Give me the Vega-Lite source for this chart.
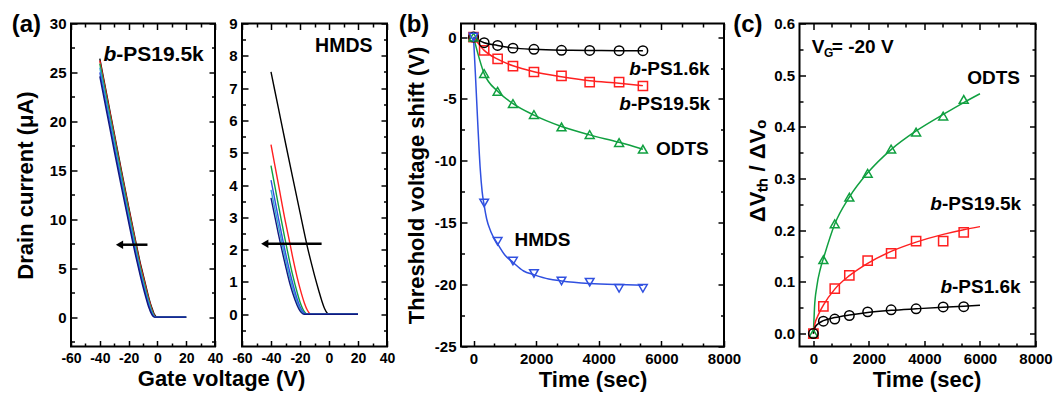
{
"$schema": "https://vega.github.io/schema/vega-lite/v6.json",
"background": "white",
"padding": {"left": 10, "top": 11.5, "right": 2, "bottom": 0},
"config": {
 "font": "Liberation Sans",
 "view": {"stroke": "black", "strokeWidth": 2},
 "axis": {"domain": false, "grid": false, "ticks": true, "tickColor": "black", "tickWidth": 1.5, "labelColor": "black", "labelFontSize": 15, "labelFontWeight": "bold", "labelFlush": false, "labelOverlap": false, "titleColor": "black", "titleFontSize": 22, "titleFontWeight": "bold", "offset": 0},
 "text": {"fontWeight": "bold", "fontSize": 19, "color": "black", "align": "left", "baseline": "middle"}
},
"datasets": {
 "ps": [
  {"s":"k","x":-40,"y":26.4},{"s":"k","x":-35,"y":22.6},{"s":"k","x":-30,"y":18.8},{"s":"k","x":-25,"y":15.0},{"s":"k","x":-20,"y":11.3},{"s":"k","x":-15,"y":7.7},{"s":"k","x":-12,"y":5.6},{"s":"k","x":-10,"y":4.4},{"s":"k","x":-8,"y":3.2},{"s":"k","x":-6,"y":2.0},{"s":"k","x":-4,"y":1.0},{"s":"k","x":-3,"y":0.6},{"s":"k","x":-2,"y":0.25},{"s":"k","x":-1,"y":0.05},{"s":"k","x":0,"y":0},{"s":"k","x":20,"y":0},
  {"s":"r","x":-40,"y":26.2},{"s":"r","x":-35,"y":22.4},{"s":"r","x":-30,"y":18.6},{"s":"r","x":-25,"y":14.8},{"s":"r","x":-20,"y":11.1},{"s":"r","x":-15,"y":7.5},{"s":"r","x":-12,"y":5.4},{"s":"r","x":-10,"y":4.2},{"s":"r","x":-8,"y":3.0},{"s":"r","x":-6,"y":1.85},{"s":"r","x":-4,"y":0.85},{"s":"r","x":-3,"y":0.45},{"s":"r","x":-2,"y":0.15},{"s":"r","x":-1,"y":0.02},{"s":"r","x":0,"y":0},{"s":"r","x":20,"y":0},
  {"s":"g","x":-40,"y":25.9},{"s":"g","x":-35,"y":22.1},{"s":"g","x":-30,"y":18.3},{"s":"g","x":-25,"y":14.5},{"s":"g","x":-20,"y":10.8},{"s":"g","x":-15,"y":7.2},{"s":"g","x":-12,"y":5.1},{"s":"g","x":-10,"y":3.9},{"s":"g","x":-8,"y":2.75},{"s":"g","x":-6,"y":1.65},{"s":"g","x":-4,"y":0.7},{"s":"g","x":-3,"y":0.35},{"s":"g","x":-2,"y":0.1},{"s":"g","x":-1,"y":0},{"s":"g","x":20,"y":0},
  {"s":"c","x":-40,"y":25.5},{"s":"c","x":-35,"y":21.7},{"s":"c","x":-30,"y":17.9},{"s":"c","x":-25,"y":14.1},{"s":"c","x":-20,"y":10.4},{"s":"c","x":-15,"y":6.9},{"s":"c","x":-12,"y":4.85},{"s":"c","x":-10,"y":3.65},{"s":"c","x":-8,"y":2.5},{"s":"c","x":-6,"y":1.45},{"s":"c","x":-4,"y":0.55},{"s":"c","x":-3,"y":0.25},{"s":"c","x":-2,"y":0.05},{"s":"c","x":-1,"y":0},{"s":"c","x":20,"y":0},
  {"s":"b","x":-40,"y":25.0},{"s":"b","x":-35,"y":21.2},{"s":"b","x":-30,"y":17.4},{"s":"b","x":-25,"y":13.7},{"s":"b","x":-20,"y":10.0},{"s":"b","x":-15,"y":6.5},{"s":"b","x":-12,"y":4.55},{"s":"b","x":-10,"y":3.35},{"s":"b","x":-8,"y":2.25},{"s":"b","x":-6,"y":1.2},{"s":"b","x":-4,"y":0.4},{"s":"b","x":-3,"y":0.15},{"s":"b","x":-2,"y":0.02},{"s":"b","x":-1,"y":0},{"s":"b","x":20,"y":0},
  {"s":"n","x":-40,"y":24.6},{"s":"n","x":-35,"y":20.8},{"s":"n","x":-30,"y":17.0},{"s":"n","x":-25,"y":13.3},{"s":"n","x":-20,"y":9.7},{"s":"n","x":-15,"y":6.2},{"s":"n","x":-12,"y":4.3},{"s":"n","x":-10,"y":3.1},{"s":"n","x":-8,"y":2.0},{"s":"n","x":-6,"y":1.0},{"s":"n","x":-4,"y":0.3},{"s":"n","x":-3,"y":0.08},{"s":"n","x":-2,"y":0},{"s":"n","x":20,"y":0}
 ],
 "hm": [
  {"s":"k","x":-40,"y":7.5},{"s":"k","x":-35,"y":6.4},{"s":"k","x":-30,"y":5.3},{"s":"k","x":-25,"y":4.22},{"s":"k","x":-20,"y":3.15},{"s":"k","x":-15,"y":2.1},{"s":"k","x":-12,"y":1.55},{"s":"k","x":-10,"y":1.2},{"s":"k","x":-7,"y":0.72},{"s":"k","x":-5,"y":0.42},{"s":"k","x":-3,"y":0.17},{"s":"k","x":-1,"y":0.02},{"s":"k","x":0,"y":0},{"s":"k","x":20,"y":0},
  {"s":"r","x":-40,"y":5.25},{"s":"r","x":-35,"y":4.05},{"s":"r","x":-30,"y":2.85},{"s":"r","x":-27,"y":2.2},{"s":"r","x":-25,"y":1.75},{"s":"r","x":-22,"y":1.15},{"s":"r","x":-20,"y":0.8},{"s":"r","x":-17,"y":0.35},{"s":"r","x":-15,"y":0.13},{"s":"r","x":-13,"y":0.01},{"s":"r","x":-12,"y":0},{"s":"r","x":20,"y":0},
  {"s":"g","x":-40,"y":4.6},{"s":"g","x":-35,"y":3.4},{"s":"g","x":-30,"y":2.25},{"s":"g","x":-27,"y":1.6},{"s":"g","x":-25,"y":1.2},{"s":"g","x":-22,"y":0.68},{"s":"g","x":-20,"y":0.38},{"s":"g","x":-17,"y":0.08},{"s":"g","x":-15,"y":0},{"s":"g","x":20,"y":0},
  {"s":"c","x":-40,"y":3.85},{"s":"c","x":-35,"y":2.75},{"s":"c","x":-30,"y":1.7},{"s":"c","x":-27,"y":1.12},{"s":"c","x":-25,"y":0.8},{"s":"c","x":-22,"y":0.38},{"s":"c","x":-20,"y":0.17},{"s":"c","x":-18,"y":0.03},{"s":"c","x":-17,"y":0},{"s":"c","x":20,"y":0},
  {"s":"b","x":-40,"y":4.15},{"s":"b","x":-35,"y":3.0},{"s":"b","x":-30,"y":1.9},{"s":"b","x":-27,"y":1.3},{"s":"b","x":-25,"y":0.95},{"s":"b","x":-22,"y":0.48},{"s":"b","x":-20,"y":0.24},{"s":"b","x":-17,"y":0.03},{"s":"b","x":-16,"y":0},{"s":"b","x":20,"y":0},
  {"s":"n","x":-40,"y":3.6},{"s":"n","x":-35,"y":2.5},{"s":"n","x":-30,"y":1.5},{"s":"n","x":-27,"y":0.95},{"s":"n","x":-25,"y":0.65},{"s":"n","x":-22,"y":0.28},{"s":"n","x":-20,"y":0.1},{"s":"n","x":-18,"y":0.01},{"s":"n","x":-17,"y":0},{"s":"n","x":20,"y":0}
 ],
 "bp": [
  {"s":"r","t":0,"v":0},{"s":"r","t":340,"v":-1.07},{"s":"r","t":770,"v":-1.75},{"s":"r","t":1260,"v":-2.34},{"s":"r","t":1930,"v":-2.82},{"s":"r","t":2810,"v":-3.14},{"s":"r","t":3710,"v":-3.63},{"s":"r","t":4650,"v":-3.63},{"s":"r","t":5410,"v":-3.95},
  {"s":"k","t":0,"v":0},{"s":"k","t":340,"v":-0.45},{"s":"k","t":770,"v":-0.67},{"s":"k","t":1260,"v":-0.89},{"s":"k","t":1930,"v":-0.99},{"s":"k","t":2810,"v":-1.07},{"s":"k","t":3710,"v":-1.08},{"s":"k","t":4650,"v":-1.1},{"s":"k","t":5410,"v":-1.1},
  {"s":"g","t":0,"v":0},{"s":"g","t":340,"v":-2.95},{"s":"g","t":770,"v":-4.38},{"s":"g","t":1260,"v":-5.37},{"s":"g","t":1930,"v":-6.26},{"s":"g","t":2810,"v":-7.26},{"s":"g","t":3710,"v":-7.87},{"s":"g","t":4650,"v":-8.52},{"s":"g","t":5410,"v":-9.06},
  {"s":"b","t":0,"v":0},{"s":"b","t":340,"v":-13.4},{"s":"b","t":770,"v":-16.5},{"s":"b","t":1260,"v":-18.1},{"s":"b","t":1930,"v":-19.1},{"s":"b","t":2810,"v":-19.7},{"s":"b","t":3710,"v":-19.8},{"s":"b","t":4650,"v":-20.3},{"s":"b","t":5410,"v":-20.3}
 ],
 "bf": [
  {"s":"k","t":0,"v":0},{"s":"k","t":340,"v":-0.45},{"s":"k","t":770,"v":-0.67},{"s":"k","t":1260,"v":-0.87},{"s":"k","t":1930,"v":-0.99},{"s":"k","t":2810,"v":-1.06},{"s":"k","t":3710,"v":-1.08},{"s":"k","t":4650,"v":-1.1},{"s":"k","t":5410,"v":-1.1},
  {"s":"r","t":0,"v":0},{"s":"r","t":340,"v":-1.07},{"s":"r","t":770,"v":-1.78},{"s":"r","t":1260,"v":-2.32},{"s":"r","t":1930,"v":-2.8},{"s":"r","t":2810,"v":-3.2},{"s":"r","t":3710,"v":-3.52},{"s":"r","t":4650,"v":-3.72},{"s":"r","t":5410,"v":-3.92},
  {"s":"g","t":0,"v":0},{"s":"g","t":340,"v":-2.95},{"s":"g","t":770,"v":-4.38},{"s":"g","t":1260,"v":-5.37},{"s":"g","t":1930,"v":-6.3},{"s":"g","t":2810,"v":-7.22},{"s":"g","t":3710,"v":-7.9},{"s":"g","t":4650,"v":-8.5},{"s":"g","t":5410,"v":-9.06},
  {"s":"b","t":0,"v":0},{"s":"b","t":60,"v":-3.0},{"s":"b","t":138,"v":-7.1},{"s":"b","t":213,"v":-10.6},{"s":"b","t":276,"v":-12.5},{"s":"b","t":340,"v":-13.6},{"s":"b","t":420,"v":-14.7},{"s":"b","t":550,"v":-15.7},{"s":"b","t":770,"v":-16.7},{"s":"b","t":1000,"v":-17.6},{"s":"b","t":1260,"v":-18.2},{"s":"b","t":1600,"v":-18.9},{"s":"b","t":1930,"v":-19.2},{"s":"b","t":2400,"v":-19.55},{"s":"b","t":2810,"v":-19.7},{"s":"b","t":3710,"v":-19.9},{"s":"b","t":4650,"v":-20.0},{"s":"b","t":5410,"v":-20.05}
 ],
 "cp": [
  {"s":"g","t":0,"v":0},{"s":"g","t":360,"v":0.143},{"s":"g","t":770,"v":0.2125},{"s":"g","t":1295,"v":0.264},{"s":"g","t":1955,"v":0.31},{"s":"g","t":2800,"v":0.357},{"s":"g","t":3700,"v":0.39},{"s":"g","t":4675,"v":0.421},{"s":"g","t":5415,"v":0.453},
  {"s":"r","t":0,"v":0},{"s":"r","t":360,"v":0.0527},{"s":"r","t":770,"v":0.087},{"s":"r","t":1295,"v":0.1126},{"s":"r","t":1955,"v":0.141},{"s":"r","t":2800,"v":0.155},{"s":"r","t":3700,"v":0.179},{"s":"r","t":4675,"v":0.179},{"s":"r","t":5415,"v":0.196},
  {"s":"k","t":0,"v":0},{"s":"k","t":360,"v":0.024},{"s":"k","t":770,"v":0.028},{"s":"k","t":1295,"v":0.035},{"s":"k","t":1955,"v":0.042},{"s":"k","t":2800,"v":0.046},{"s":"k","t":3700,"v":0.048},{"s":"k","t":4675,"v":0.0515},{"s":"k","t":5415,"v":0.052}
 ],
 "cf": [
  {"s":"g","t":0,"v":0},{"s":"g","t":40,"v":0.05},{"s":"g","t":120,"v":0.09},{"s":"g","t":250,"v":0.125},{"s":"g","t":360,"v":0.145},{"s":"g","t":770,"v":0.212},{"s":"g","t":1295,"v":0.264},{"s":"g","t":1955,"v":0.311},{"s":"g","t":2800,"v":0.356},{"s":"g","t":3700,"v":0.392},{"s":"g","t":4675,"v":0.424},{"s":"g","t":5415,"v":0.447},{"s":"g","t":6000,"v":0.464},
  {"s":"r","t":0,"v":0},{"s":"r","t":60,"v":0.02},{"s":"r","t":150,"v":0.033},{"s":"r","t":360,"v":0.055},{"s":"r","t":770,"v":0.086},{"s":"r","t":1295,"v":0.112},{"s":"r","t":1955,"v":0.136},{"s":"r","t":2800,"v":0.159},{"s":"r","t":3700,"v":0.177},{"s":"r","t":4675,"v":0.192},{"s":"r","t":5415,"v":0.201},{"s":"r","t":6000,"v":0.207},
  {"s":"k","t":0,"v":0},{"s":"k","t":60,"v":0.012},{"s":"k","t":150,"v":0.018},{"s":"k","t":360,"v":0.025},{"s":"k","t":770,"v":0.031},{"s":"k","t":1295,"v":0.036},{"s":"k","t":1955,"v":0.041},{"s":"k","t":2800,"v":0.045},{"s":"k","t":3700,"v":0.048},{"s":"k","t":4675,"v":0.051},{"s":"k","t":5415,"v":0.053},{"s":"k","t":6000,"v":0.055}
 ]
},
"spacing": 1,
"hconcat": [
 {
  "spacing": 27,
  "bounds": "flush",
  "hconcat": [
   {
    "width": 144, "height": 323,
    "resolve": {"axis": {"x": "independent", "y": "independent"}},
    "layer": [
     {
      "data": {"name": "ps"},
      "mark": {"type": "line", "interpolate": "monotone", "strokeWidth": 1.4},
      "encoding": {
       "x": {"field": "x", "type": "quantitative", "scale": {"domain": [-60, 40], "nice": false, "zero": false}, "axis": {"orient": "bottom", "values": [-60, -40, -20, 0, 20, 40], "labelExpr": "replace(datum.label, '−', '-')", "tickSize": -6, "labelPadding": 11, "labelFontSize": 14, "title": "Gate voltage (V)", "titleX": 150, "titlePadding": 3}},
       "y": {"field": "y", "type": "quantitative", "scale": {"domain": [-3, 30], "nice": false, "zero": false}, "axis": {"orient": "left", "values": [0, 5, 10, 15, 20, 25, 30], "tickSize": -6, "labelPadding": 11, "title": "Drain current (μA)", "titlePadding": 12}},
       "color": {"field": "s", "type": "nominal", "scale": {"domain": ["k", "r", "g", "c", "b", "n"], "range": ["#000000", "#ff2020", "#10a040", "#30a8d0", "#3050e0", "#101880"]}, "legend": null}
      }
     },
     {
      "data": {"values": [{"x": -6.9, "x2": -26.3, "y": 7.4}]},
      "mark": {"type": "rule", "strokeWidth": 2.5, "color": "black"},
      "encoding": {
       "x": {"field": "x", "type": "quantitative", "scale": {"domain": [-60, 40], "nice": false, "zero": false}, "axis": {"orient": "bottom", "values": [-50, -30, -10, 10, 30], "tickSize": -3.5, "labels": false, "title": null}},
       "x2": {"field": "x2"},
       "y": {"field": "y", "type": "quantitative", "scale": {"domain": [-3, 30], "nice": false, "zero": false}, "axis": {"orient": "left", "values": [-2.5, 2.5, 7.5, 12.5, 17.5, 22.5, 27.5], "tickSize": -3.5, "labels": false, "title": null}}
      }
     },
     {
      "data": {"values": [{"x": -26.3, "y": 7.4}]},
      "mark": {"type": "point", "shape": "triangle-left", "filled": true, "color": "black", "size": 70, "opacity": 1},
      "encoding": {
       "x": {"field": "x", "type": "quantitative", "scale": {"domain": [-60, 40], "nice": false, "zero": false}, "axis": {"orient": "top", "values": [-60, -40, -20, 0, 20, 40], "tickSize": -6, "labels": false, "title": null}},
       "y": {"field": "y", "type": "quantitative", "scale": {"domain": [-3, 30], "nice": false, "zero": false}, "axis": {"orient": "right", "values": [0, 5, 10, 15, 20, 25, 30], "tickSize": -6, "labels": false, "title": null}}
      }
     },
     {
      "data": {"values": [{"x": -37.5, "y": 26.8, "t": "b"}]},
      "mark": {"type": "text", "fontStyle": "italic", "fontSize": 21},
      "encoding": {
       "x": {"field": "x", "type": "quantitative", "scale": {"domain": [-60, 40], "nice": false, "zero": false}, "axis": {"orient": "top", "values": [-50, -30, -10, 10, 30], "tickSize": -3.5, "labels": false, "title": null}},
       "y": {"field": "y", "type": "quantitative", "scale": {"domain": [-3, 30], "nice": false, "zero": false}, "axis": {"orient": "right", "values": [-2.5, 2.5, 7.5, 12.5, 17.5, 22.5, 27.5], "tickSize": -3.5, "labels": false, "title": null}},
       "text": {"field": "t"}
      }
     },
     {
      "data": {"values": [{"x": -37.5, "y": 26.8, "t": "-PS19.5k"}]},
      "mark": {"type": "text", "fontSize": 21, "dx": 12.8},
      "encoding": {
       "x": {"field": "x", "type": "quantitative", "scale": {"domain": [-60, 40], "nice": false, "zero": false}, "axis": null},
       "y": {"field": "y", "type": "quantitative", "scale": {"domain": [-3, 30], "nice": false, "zero": false}, "axis": null},
       "text": {"field": "t"}
      }
     },
     {
      "data": {"values": [{"x": -101.2, "y": 29.85, "t": "(a)"}]},
      "mark": {"type": "text", "fontSize": 24},
      "encoding": {
       "x": {"field": "x", "type": "quantitative", "scale": {"domain": [-60, 40], "nice": false, "zero": false}, "axis": null},
       "y": {"field": "y", "type": "quantitative", "scale": {"domain": [-3, 30], "nice": false, "zero": false}, "axis": null},
       "text": {"field": "t"}
      }
     }
    ]
   },
   {
    "width": 145, "height": 323,
    "resolve": {"axis": {"x": "independent", "y": "independent"}},
    "layer": [
     {
      "data": {"name": "hm"},
      "mark": {"type": "line", "interpolate": "monotone", "strokeWidth": 1.4},
      "encoding": {
       "x": {"field": "x", "type": "quantitative", "scale": {"domain": [-60, 40], "nice": false, "zero": false}, "axis": {"orient": "bottom", "values": [-60, -40, -20, 0, 20, 40], "labelExpr": "replace(datum.label, '−', '-')", "tickSize": -6, "labelPadding": 11, "labelFontSize": 14, "title": null}},
       "y": {"field": "y", "type": "quantitative", "scale": {"domain": [-1, 9], "nice": false, "zero": false}, "axis": {"orient": "left", "values": [0, 1, 2, 3, 4, 5, 6, 7, 8, 9], "tickSize": -6, "labelPadding": 11, "title": null}},
       "color": {"field": "s", "type": "nominal", "scale": {"domain": ["k", "r", "g", "c", "b", "n"], "range": ["#000000", "#ff2020", "#10a040", "#30a8d0", "#3050e0", "#101880"]}, "legend": null}
      }
     },
     {
      "data": {"values": [{"x": -5.1, "x2": -44.3, "y": 2.18}]},
      "mark": {"type": "rule", "strokeWidth": 2.5, "color": "black"},
      "encoding": {
       "x": {"field": "x", "type": "quantitative", "scale": {"domain": [-60, 40], "nice": false, "zero": false}, "axis": {"orient": "bottom", "values": [-50, -30, -10, 10, 30], "tickSize": -3.5, "labels": false, "title": null}},
       "x2": {"field": "x2"},
       "y": {"field": "y", "type": "quantitative", "scale": {"domain": [-1, 9], "nice": false, "zero": false}, "axis": {"orient": "left", "values": [-0.5, 0.5, 1.5, 2.5, 3.5, 4.5, 5.5, 6.5, 7.5, 8.5], "tickSize": -3.5, "labels": false, "title": null}}
      }
     },
     {
      "data": {"values": [{"x": -44.3, "y": 2.18}]},
      "mark": {"type": "point", "shape": "triangle-left", "filled": true, "color": "black", "size": 70, "opacity": 1},
      "encoding": {
       "x": {"field": "x", "type": "quantitative", "scale": {"domain": [-60, 40], "nice": false, "zero": false}, "axis": {"orient": "top", "values": [-60, -40, -20, 0, 20, 40], "tickSize": -6, "labels": false, "title": null}},
       "y": {"field": "y", "type": "quantitative", "scale": {"domain": [-1, 9], "nice": false, "zero": false}, "axis": {"orient": "right", "values": [0, 1, 2, 3, 4, 5, 6, 7, 8, 9], "tickSize": -6, "labels": false, "title": null}}
      }
     },
     {
      "data": {"values": [{"x": 30, "y": 8.29, "t": "HMDS"}]},
      "mark": {"type": "text", "align": "right", "fontSize": 19.5},
      "encoding": {
       "x": {"field": "x", "type": "quantitative", "scale": {"domain": [-60, 40], "nice": false, "zero": false}, "axis": {"orient": "top", "values": [-50, -30, -10, 10, 30], "tickSize": -3.5, "labels": false, "title": null}},
       "y": {"field": "y", "type": "quantitative", "scale": {"domain": [-1, 9], "nice": false, "zero": false}, "axis": {"orient": "right", "values": [-0.5, 0.5, 1.5, 2.5, 3.5, 4.5, 5.5, 6.5, 7.5, 8.5], "tickSize": -3.5, "labels": false, "title": null}},
       "text": {"field": "t"}
      }
     }
    ]
   }
  ]
 },
 {
  "spacing": 75.5,
  "bounds": "flush",
  "hconcat": [
   {
    "width": 263, "height": 323,
    "resolve": {"axis": {"x": "independent", "y": "independent"}},
    "layer": [
     {
      "data": {"name": "bf"},
      "mark": {"type": "line", "interpolate": "monotone", "strokeWidth": 1.5},
      "encoding": {
       "x": {"field": "t", "type": "quantitative", "scale": {"domain": [-400, 8000], "nice": false, "zero": false}, "axis": {"orient": "bottom", "values": [0, 2000, 4000, 6000, 8000], "format": "d", "tickSize": -6, "labelPadding": 11, "title": "Time (sec)", "titlePadding": 3}},
       "y": {"field": "v", "type": "quantitative", "scale": {"domain": [-25, 1.1], "nice": false, "zero": false}, "axis": {"orient": "left", "values": [0, -5, -10, -15, -20, -25], "labelExpr": "replace(datum.label, '−', '-')", "tickSize": -6, "labelPadding": 11, "title": "Threshold voltage shift (V)", "titlePadding": 6}},
       "color": {"field": "s", "type": "nominal", "scale": {"domain": ["k", "r", "g", "b"], "range": ["#000000", "#e8202a", "#20a84a", "#2b4aa8"]}, "legend": null}
      }
     },
     {
      "data": {"name": "bp"},
      "mark": {"type": "point", "filled": false, "strokeWidth": 1.5, "opacity": 1},
      "encoding": {
       "x": {"field": "t", "type": "quantitative", "scale": {"domain": [-400, 8000], "nice": false, "zero": false}, "axis": {"orient": "bottom", "values": [667, 1333, 2667, 3333, 4667, 5333, 6667, 7333], "tickSize": -3.5, "labels": false, "title": null}},
       "y": {"field": "v", "type": "quantitative", "scale": {"domain": [-25, 1.1], "nice": false, "zero": false}, "axis": {"orient": "left", "values": [-2.5, -7.5, -12.5, -17.5, -22.5], "tickSize": -3.5, "labels": false, "title": null}},
       "color": {"field": "s", "type": "nominal", "scale": {"domain": ["k", "r", "g", "b"], "range": ["#000000", "#e8202a", "#20a84a", "#2b4aa8"]}, "legend": null},
       "shape": {"field": "s", "type": "nominal", "scale": {"domain": ["k", "r", "g", "b"], "range": ["circle", "square", "triangle-up", "triangle-down"]}, "legend": null},
       "size": {"field": "s", "type": "nominal", "scale": {"domain": ["k", "r", "g", "b"], "range": [90, 75, 140, 140]}, "legend": null}
      }
     },
     {
      "data": {"values": [{"x": 4976, "y": -2.55, "t": "b"}, {"x": 4657, "y": -5.37, "t": "b"}]},
      "mark": {"type": "text", "fontStyle": "italic"},
      "encoding": {
       "x": {"field": "x", "type": "quantitative", "scale": {"domain": [-400, 8000], "nice": false, "zero": false}, "axis": {"orient": "top", "values": [0, 2000, 4000, 6000, 8000], "tickSize": -6, "labels": false, "title": null}},
       "y": {"field": "y", "type": "quantitative", "scale": {"domain": [-25, 1.1], "nice": false, "zero": false}, "axis": {"orient": "right", "values": [0, -5, -10, -15, -20, -25], "tickSize": -6, "labels": false, "title": null}},
       "text": {"field": "t"}
      }
     },
     {
      "data": {"values": [{"x": 4976, "y": -2.55, "t": "-PS1.6k"}, {"x": 4657, "y": -5.37, "t": "-PS19.5k"}]},
      "mark": {"type": "text", "dx": 11.6},
      "encoding": {
       "x": {"field": "x", "type": "quantitative", "scale": {"domain": [-400, 8000], "nice": false, "zero": false}, "axis": {"orient": "top", "values": [667, 1333, 2667, 3333, 4667, 5333, 6667, 7333], "tickSize": -3.5, "labels": false, "title": null}},
       "y": {"field": "y", "type": "quantitative", "scale": {"domain": [-25, 1.1], "nice": false, "zero": false}, "axis": {"orient": "right", "values": [-2.5, -7.5, -12.5, -17.5, -22.5], "tickSize": -3.5, "labels": false, "title": null}},
       "text": {"field": "t"}
      }
     },
     {
      "data": {"values": [{"x": 5828, "y": -9.08, "t": "ODTS"}, {"x": 1308, "y": -16.4, "t": "HMDS"}]},
      "mark": {"type": "text"},
      "encoding": {
       "x": {"field": "x", "type": "quantitative", "scale": {"domain": [-400, 8000], "nice": false, "zero": false}, "axis": null},
       "y": {"field": "y", "type": "quantitative", "scale": {"domain": [-25, 1.1], "nice": false, "zero": false}, "axis": null},
       "text": {"field": "t"}
      }
     },
     {
      "data": {"values": [{"x": -2390, "y": 0.979, "t": "(b)"}]},
      "mark": {"type": "text", "fontSize": 24},
      "encoding": {
       "x": {"field": "x", "type": "quantitative", "scale": {"domain": [-400, 8000], "nice": false, "zero": false}, "axis": null},
       "y": {"field": "y", "type": "quantitative", "scale": {"domain": [-25, 1.1], "nice": false, "zero": false}, "axis": null},
       "text": {"field": "t"}
      }
     }
    ]
   },
   {
    "width": 236, "height": 323,
    "resolve": {"axis": {"x": "independent", "y": "independent"}},
    "layer": [
     {
      "data": {"name": "cf"},
      "mark": {"type": "line", "interpolate": "monotone", "strokeWidth": 1.5},
      "encoding": {
       "x": {"field": "t", "type": "quantitative", "scale": {"domain": [-500, 8000], "nice": false, "zero": false}, "axis": {"orient": "bottom", "values": [0, 2000, 4000, 6000, 8000], "format": "d", "tickSize": -6, "labelPadding": 11, "title": "Time (sec)", "titlePadding": 3, "titleX": 127}},
       "y": {"field": "v", "type": "quantitative", "scale": {"domain": [-0.025, 0.6], "nice": false, "zero": false}, "axis": {"orient": "left", "values": [0, 0.1, 0.2, 0.3, 0.4, 0.5, 0.6], "format": ".1f", "tickSize": -6, "labelPadding": 11, "title": "ΔVₜₕ / ΔVₒ", "titlePadding": 4, "titleY": 147}},
       "color": {"field": "s", "type": "nominal", "scale": {"domain": ["k", "r", "g"], "range": ["#000000", "#e8202a", "#20a84a"]}, "legend": null}
      }
     },
     {
      "data": {"name": "cp"},
      "mark": {"type": "point", "filled": false, "strokeWidth": 1.5, "opacity": 1},
      "encoding": {
       "x": {"field": "t", "type": "quantitative", "scale": {"domain": [-500, 8000], "nice": false, "zero": false}, "axis": {"orient": "bottom", "values": [667, 1333, 2667, 3333, 4667, 5333, 6667, 7333], "tickSize": -3.5, "labels": false, "title": null}},
       "y": {"field": "v", "type": "quantitative", "scale": {"domain": [-0.025, 0.6], "nice": false, "zero": false}, "axis": {"orient": "left", "values": [0.05, 0.15, 0.25, 0.35, 0.45, 0.55], "tickSize": -3.5, "labels": false, "title": null}},
       "color": {"field": "s", "type": "nominal", "scale": {"domain": ["k", "r", "g"], "range": ["#000000", "#e8202a", "#20a84a"]}, "legend": null},
       "shape": {"field": "s", "type": "nominal", "scale": {"domain": ["k", "r", "g"], "range": ["circle", "square", "triangle-up"]}, "legend": null},
       "size": {"field": "s", "type": "nominal", "scale": {"domain": ["k", "r", "g"], "range": [100, 95, 170]}, "legend": null}
      }
     },
     {
      "data": {"values": [{"x": 4213, "y": 0.251, "t": "b"}, {"x": 4574, "y": 0.09, "t": "b"}]},
      "mark": {"type": "text", "fontStyle": "italic"},
      "encoding": {
       "x": {"field": "x", "type": "quantitative", "scale": {"domain": [-500, 8000], "nice": false, "zero": false}, "axis": {"orient": "top", "values": [0, 2000, 4000, 6000, 8000], "tickSize": -6, "labels": false, "title": null}},
       "y": {"field": "y", "type": "quantitative", "scale": {"domain": [-0.025, 0.6], "nice": false, "zero": false}, "axis": {"orient": "right", "values": [0, 0.1, 0.2, 0.3, 0.4, 0.5, 0.6], "tickSize": -6, "labels": false, "title": null}},
       "text": {"field": "t"}
      }
     },
     {
      "data": {"values": [{"x": 4213, "y": 0.251, "t": "-PS19.5k"}, {"x": 4574, "y": 0.09, "t": "-PS1.6k"}]},
      "mark": {"type": "text", "dx": 11.6},
      "encoding": {
       "x": {"field": "x", "type": "quantitative", "scale": {"domain": [-500, 8000], "nice": false, "zero": false}, "axis": {"orient": "top", "values": [667, 1333, 2667, 3333, 4667, 5333, 6667, 7333], "tickSize": -3.5, "labels": false, "title": null}},
       "y": {"field": "y", "type": "quantitative", "scale": {"domain": [-0.025, 0.6], "nice": false, "zero": false}, "axis": {"orient": "right", "values": [0.05, 0.15, 0.25, 0.35, 0.45, 0.55], "tickSize": -3.5, "labels": false, "title": null}},
       "text": {"field": "t"}
      }
     },
     {
      "data": {"values": [{"x": 5538, "y": 0.4945, "t": "ODTS"}, {"x": -58, "y": 0.555, "t": "V"}, {"x": 664, "y": 0.555, "t": "= -20 V"}]},
      "mark": {"type": "text"},
      "encoding": {
       "x": {"field": "x", "type": "quantitative", "scale": {"domain": [-500, 8000], "nice": false, "zero": false}, "axis": null},
       "y": {"field": "y", "type": "quantitative", "scale": {"domain": [-0.025, 0.6], "nice": false, "zero": false}, "axis": null},
       "text": {"field": "t"}
      }
     },
     {
      "data": {"values": [{"x": 386, "y": 0.542, "t": "G"}]},
      "mark": {"type": "text", "fontSize": 12},
      "encoding": {
       "x": {"field": "x", "type": "quantitative", "scale": {"domain": [-500, 8000], "nice": false, "zero": false}, "axis": null},
       "y": {"field": "y", "type": "quantitative", "scale": {"domain": [-0.025, 0.6], "nice": false, "zero": false}, "axis": null},
       "text": {"field": "t"}
      }
     },
     {
      "data": {"values": [{"x": -2888, "y": 0.5971, "t": "(c)"}]},
      "mark": {"type": "text", "fontSize": 24},
      "encoding": {
       "x": {"field": "x", "type": "quantitative", "scale": {"domain": [-500, 8000], "nice": false, "zero": false}, "axis": null},
       "y": {"field": "y", "type": "quantitative", "scale": {"domain": [-0.025, 0.6], "nice": false, "zero": false}, "axis": null},
       "text": {"field": "t"}
      }
     }
    ]
   }
  ]
 }
]
}
